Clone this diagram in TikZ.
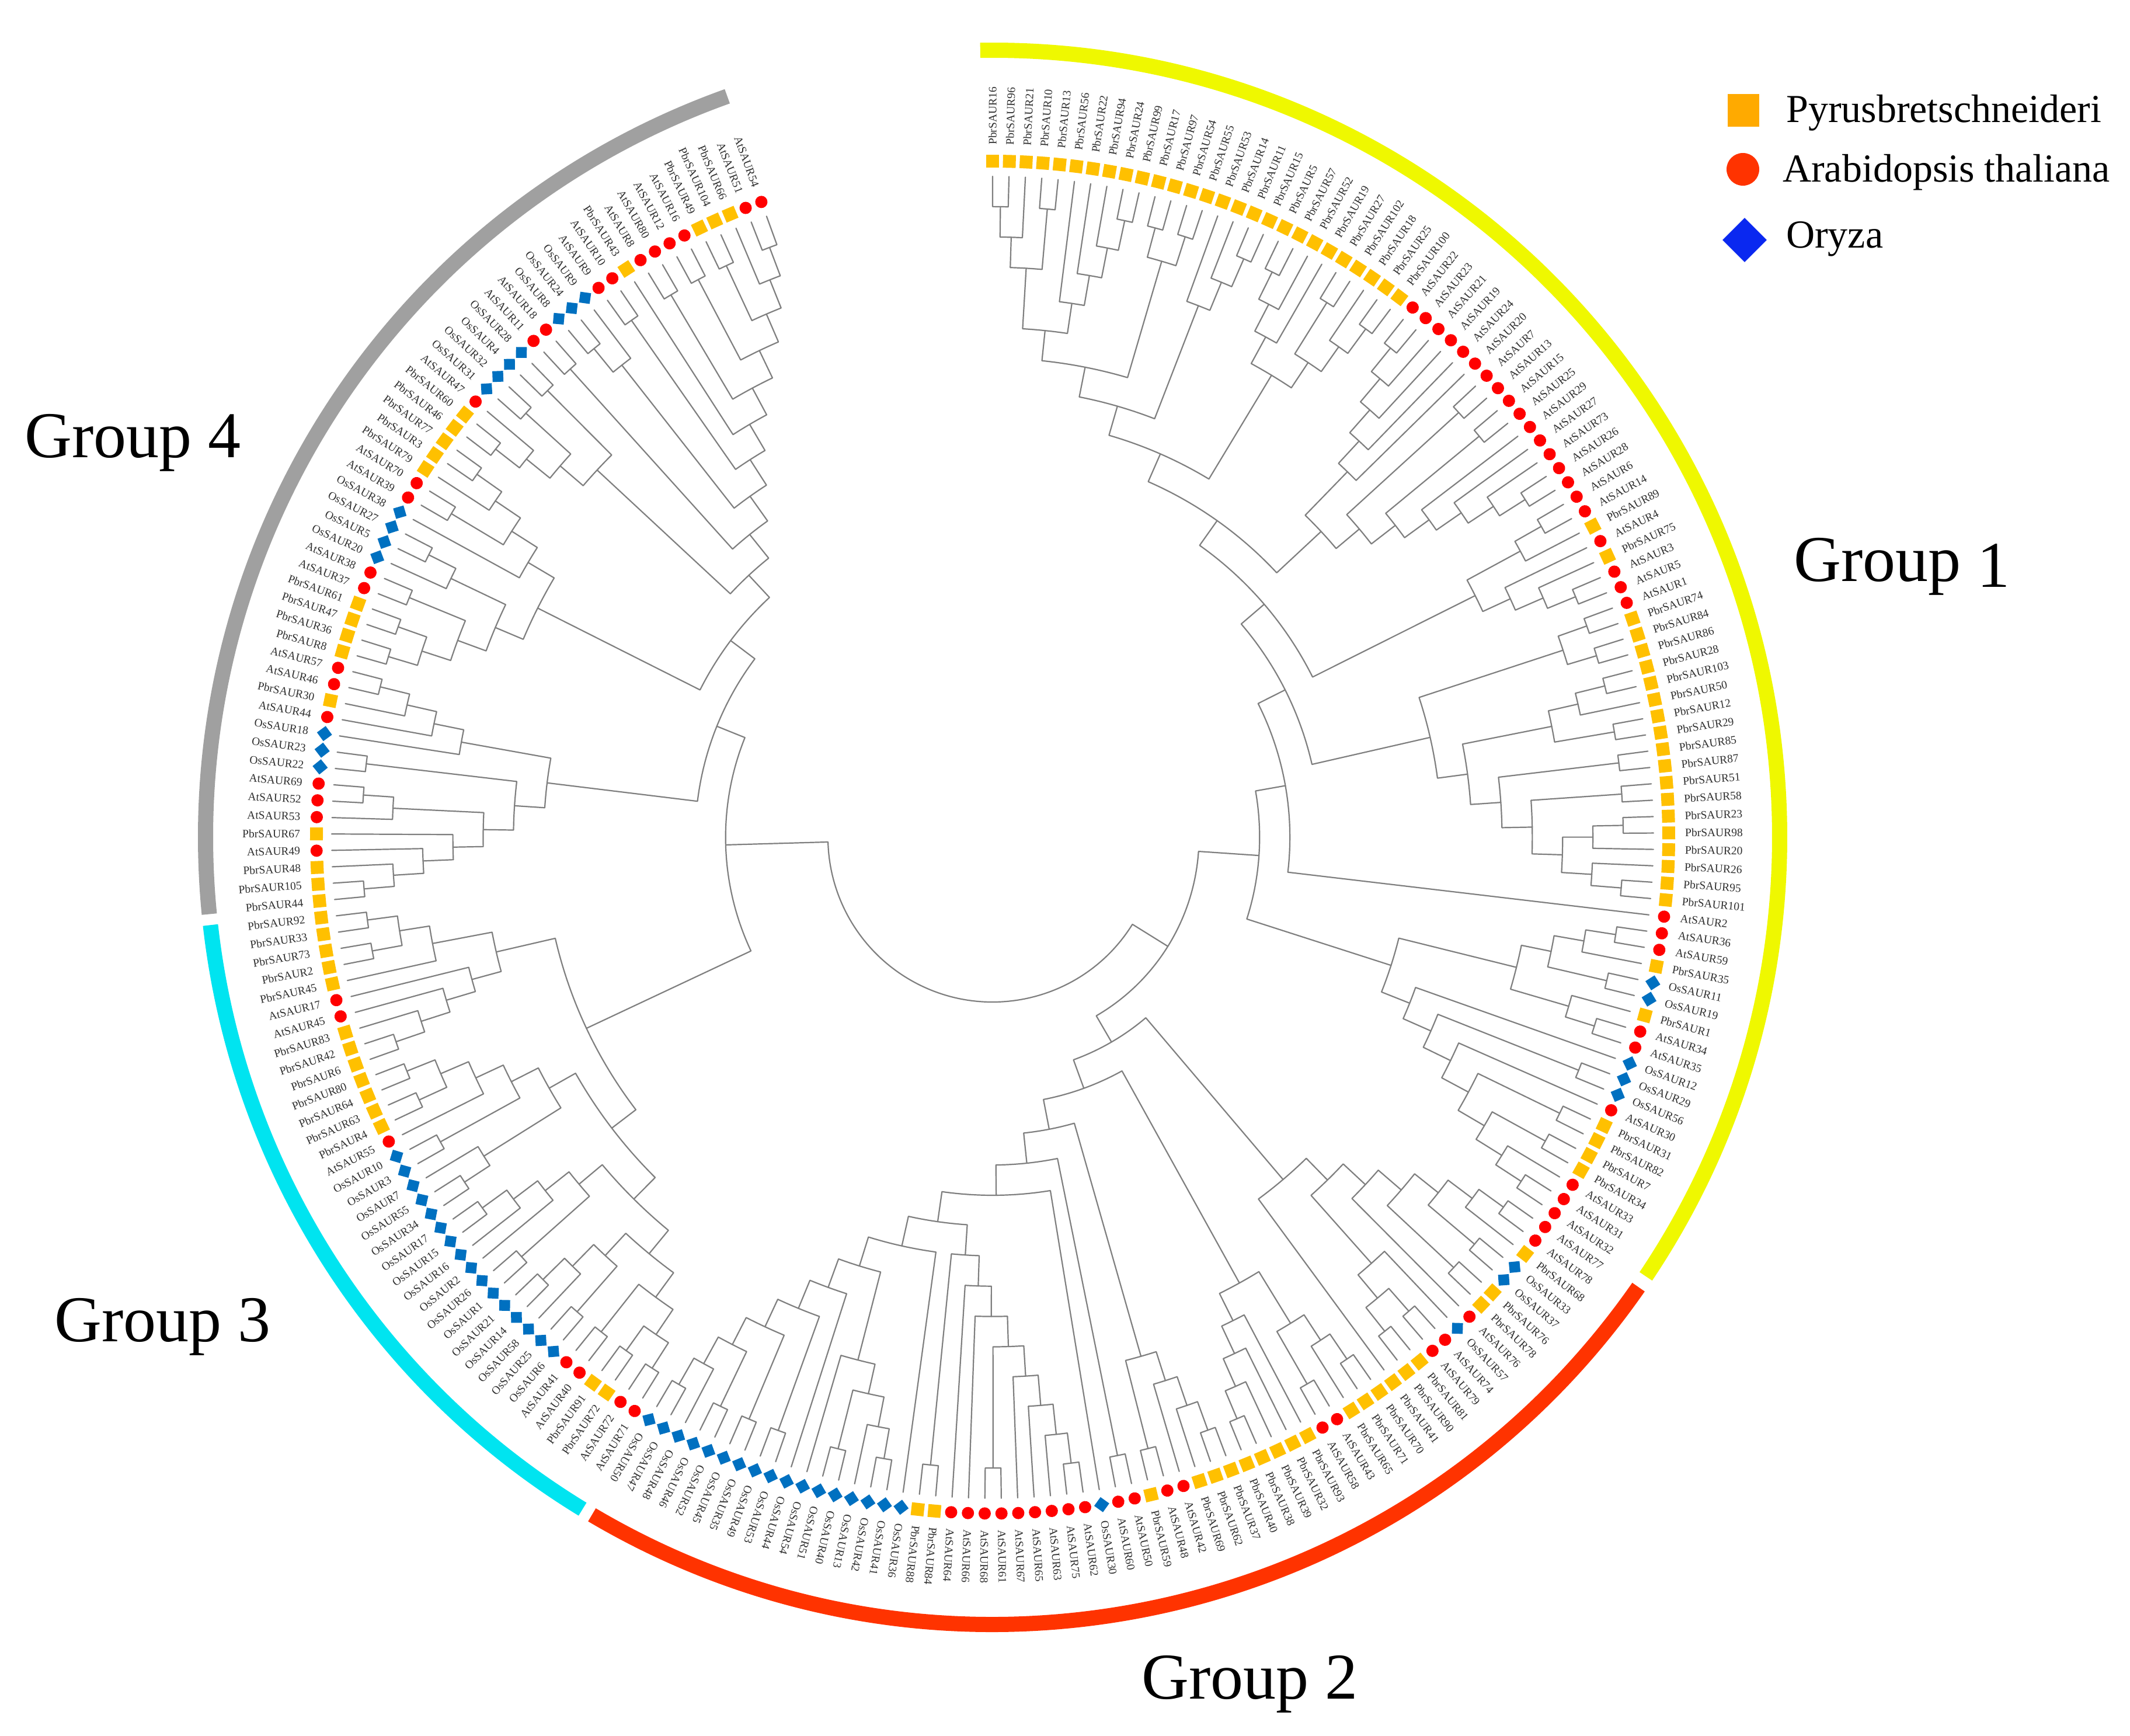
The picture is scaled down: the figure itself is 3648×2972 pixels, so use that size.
\documentclass[tikz,border=0pt]{standalone}
\usepackage{fontspec}
\setmainfont{Liberation Serif}
\usetikzlibrary{shapes.geometric}
\definecolor{pearc}{HTML}{FFC000}
\definecolor{arabc}{HTML}{FF0000}
\definecolor{oryzc}{HTML}{0070C0}
\definecolor{branchc}{HTML}{7F7F7F}
\definecolor{labc}{HTML}{303030}
\definecolor{gyellow}{HTML}{EFF800}
\definecolor{gred}{HTML}{FF3300}
\definecolor{gcyan}{HTML}{00E4F0}
\definecolor{ggrey}{HTML}{A0A0A0}
\definecolor{keyorange}{HTML}{FFAA00}
\definecolor{keyblue}{HTML}{0A28F0}
\tikzset{
  branch/.style={draw=branchc,line width=2.2pt,line join=round,line cap=round},
  pbsym/.style={rectangle,fill=pearc,inner sep=0pt,minimum size=22pt},
  atsym/.style={circle,fill=arabc,inner sep=0pt,minimum size=21pt},
  ossym/.style={rectangle,fill=oryzc,inner sep=0pt,minimum size=18.5pt},
  leaflabel/.style={inner sep=0pt,text=labc,font=\fontsize{19.5}{22}\selectfont},
  groupband/.style={line width=26pt,line cap=butt},
  grouplabel/.style={inner sep=0pt,anchor=base west,font=\fontsize{112}{130}\selectfont},
  legendlabel/.style={inner sep=0pt,anchor=base west,font=\fontsize{68}{84}\selectfont},
}
\newcount\LeafNo
\newcount\StackTop
\newcount\JoinNo
\newcount\HtCnt
\gdef\ForceR{}
\def\Leaf#1#2#3{%
  \global\advance\LeafNo by 1
  \global\advance\StackTop by 1
  \pgfmathsetmacro\LfAng{90-(\the\LeafNo-1)*1.422594}%
  \node[#1,rotate=\LfAng+#2] (s\the\LeafNo) at (\LfAng:1158pt) {};
  \ifnum\LeafNo<150
    \node[leaflabel,anchor=west,rotate=\LfAng] (l\the\LeafNo) at (\LfAng:1186pt) {#3};
  \else
    \node[leaflabel,anchor=east,rotate=\LfAng+180] (l\the\LeafNo) at (\LfAng:1186pt) {#3};
  \fi
  \coordinate (t\the\LeafNo) at (\LfAng:1132pt);
  \expandafter\xdef\csname StA\the\StackTop\endcsname{\LfAng}%
  \expandafter\xdef\csname StH\the\StackTop\endcsname{0}%
  \expandafter\xdef\csname StN\the\StackTop\endcsname{t\the\LeafNo}%
}
\def\Pb#1{\Leaf{pbsym}{0}{PbrSAUR#1}}
\def\At#1{\Leaf{atsym}{0}{AtSAUR#1}}
\def\Os#1{\Leaf{ossym}{45}{OsSAUR#1}}
\def\Jn{%
  \global\advance\JoinNo by 1
  \edef\TopI{\the\StackTop}%
  \count255=\StackTop \advance\count255 by -1 \edef\SecI{\the\count255}%
  \edef\AngA{\csname StA\SecI\endcsname}%
  \edef\AngB{\csname StA\TopI\endcsname}%
  \edef\NmA{\csname StN\SecI\endcsname}%
  \edef\NmB{\csname StN\TopI\endcsname}%
  \HtCnt=\csname StH\SecI\endcsname\relax
  \ifnum\csname StH\TopI\endcsname>\HtCnt \HtCnt=\csname StH\TopI\endcsname\relax\fi
  \advance\HtCnt by 1
  \ifx\ForceR\empty\pgfmathsetmacro\JR{1132-51.9*\the\HtCnt}\else\let\JR\ForceR\fi
  \pgfmathsetmacro\AngM{(\AngA+\AngB)/2}%
  \coordinate (a\the\JoinNo) at (\AngA:\JR pt);
  \coordinate (b\the\JoinNo) at (\AngB:\JR pt);
  \coordinate (n\the\JoinNo) at (\AngM:\JR pt);
  \draw[branch] (\NmA) -- (a\the\JoinNo) arc[start angle=\AngA,end angle=\AngB,radius=\JR pt] -- (\NmB);
  \global\advance\StackTop by -1
  \expandafter\xdef\csname StA\the\StackTop\endcsname{\AngM}%
  \expandafter\xdef\csname StH\the\StackTop\endcsname{\the\HtCnt}%
  \expandafter\xdef\csname StN\the\StackTop\endcsname{n\the\JoinNo}%
}
\begin{document}
\begin{tikzpicture}
\fill[white] (-1700pt,-1538pt) rectangle (1948pt,1434pt);
\useasboundingbox (-1700pt,-1538pt) rectangle (1948pt,1434pt);
% group bands
\draw[groupband,draw=gyellow] (90.9:1348pt) arc[start angle=90.9,end angle=-33.9,radius=1348pt];
\draw[groupband,draw=gred] (-34.85:1348pt) arc[start angle=-34.85,end angle=-120.6,radius=1348pt];
\draw[groupband,draw=gcyan] (-121.4:1348pt) arc[start angle=-121.4,end angle=-173.6,radius=1348pt];
\draw[groupband,draw=ggrey] (-174.4:1348pt) arc[start angle=-174.4,end angle=-250.3,radius=1348pt];
% tree, in postfix order, clockwise from the top
\Pb{16}\Pb{96}\Jn\Pb{21}\Jn\Pb{10}\Pb{13}\Jn\Jn
\Pb{56}\Pb{22}\Pb{94}\Pb{24}\Pb{99}\Jn\Jn\Jn\Jn
\Jn
\Pb{17}\Pb{97}\Jn\Pb{54}\Pb{55}\Jn\Jn
\Jn
\Pb{53}\Pb{14}\Pb{11}\Pb{15}\Jn\Jn\Jn
\Jn
\Pb{5}\Pb{57}\Jn\Pb{52}\Jn\Pb{19}\Jn
\Pb{27}\Pb{102}\Jn\Pb{18}\Pb{25}\Pb{100}\Jn\Jn\Jn
\Jn
\Jn
\At{22}\At{23}\Jn\At{21}\Jn\At{19}\Jn\At{24}\Jn\At{20}\Jn
\At{7}\At{13}\Jn\At{15}\At{25}\Jn\At{29}\At{27}\At{73}\At{26}\At{28}
\Jn\Jn\Jn\Jn\Jn\Jn\Jn
\Jn
\At{6}\At{14}\Jn\Pb{89}\Jn\At{4}\Pb{75}\At{3}\At{5}\Jn\Jn\Jn\Jn
\Jn
\At{1}\Pb{74}\Jn\Pb{84}\Pb{86}\Jn\Jn
\Pb{28}\Pb{103}\Jn\Pb{50}\Jn\Pb{12}\Pb{29}\Jn\Jn
\Pb{85}\Pb{87}\Jn\Pb{51}\Pb{58}\Jn\Pb{23}\Pb{98}\Jn\Pb{20}\Jn\Pb{26}\Pb{95}\Pb{101}\Jn\Jn
\Jn\Jn\Jn\Jn\Jn
\Jn
\At{2}\Jn
\At{36}\At{59}\Jn\Pb{35}\Jn\Os{11}\Os{19}\Jn\Jn\Pb{1}\At{34}\At{35}\Jn\Jn\Jn
\Os{12}\Os{29}\Os{56}\Jn\At{30}\Pb{31}\Pb{82}\Jn\Pb{7}\Pb{34}\Jn\At{33}\At{31}\At{32}\Jn
\Jn\Jn\Jn\Jn\Jn\Jn
\Jn
\Jn
\At{77}\At{78}\Jn\Pb{68}\Jn\Os{33}\Os{37}\Jn\Jn\Pb{76}\Pb{78}\Jn\Jn\At{76}\Jn
\Os{57}\At{74}\At{79}\Jn\Pb{81}\Pb{90}\Jn\Jn\Jn
\Jn\Pb{41}\Jn
\Pb{70}\Pb{71}\Jn\Pb{65}\Jn\At{43}\At{58}\Jn\Jn
\Pb{93}\Pb{32}\Pb{39}\Pb{38}\Pb{40}\Jn\Jn\Jn\Jn
\Jn
\Pb{37}\Pb{62}\Jn\Pb{69}\Jn\At{42}\Jn\At{48}\Pb{59}\Jn\Jn
\At{50}\At{60}\Jn
\Os{30}
\At{62}\At{75}\Jn\At{63}\Jn\At{65}\Jn\At{67}\Jn\At{61}\At{68}\Jn\Jn\At{66}\Jn\At{64}\Jn\Pb{84}\Pb{88}\Jn\Jn
\Os{36}\Os{41}\Os{42}\Jn\Os{13}\Jn\Os{40}\Os{51}\Jn\Jn\Os{54}\Jn
\Os{44}\Os{53}\Os{49}\Jn\Os{35}\Os{45}\Jn\Os{52}\Os{46}\Jn\Os{48}\Os{47}\Os{50}\Jn
\Jn\Jn\Jn\Jn\Jn\Jn\Jn
\Jn\Jn\Jn\Jn\Jn\Jn
\Jn
% left half
\At{71}\At{72}\Jn\Pb{72}\Pb{91}\Jn\Jn\At{40}\At{41}\Jn\Jn
\Os{6}\Os{25}\Jn\Os{58}\Os{14}\Os{21}\Jn\Jn\Jn\Jn
\Os{1}\Os{26}\Jn\Os{2}\Os{16}\Os{15}\Os{17}\Jn\Jn\Jn\Jn\Jn
\Os{34}\Os{55}\Jn\Os{7}\Jn\Os{3}\Os{10}\Jn\At{55}\Pb{4}\Pb{63}\Jn\Pb{64}\Pb{80}\Jn\Jn\Jn\Jn\Jn
\Jn
\Pb{6}\Pb{42}\Jn\Pb{83}\Jn\At{45}\Jn\At{17}\Jn
\Pb{45}\Pb{2}\Pb{73}\Jn\Pb{33}\Pb{92}\Jn\Jn\Jn\Jn
\Jn
\Pb{44}\Pb{105}\Jn\Pb{48}\Jn\At{49}\Jn\Pb{67}\Jn\At{53}\At{52}\At{69}\Jn\Jn\Jn
\Os{22}\Os{23}\Jn\Jn
\Os{18}\At{44}\Pb{30}\At{46}\At{57}\Jn\Jn\Jn\Jn\Jn
\Pb{8}\Pb{36}\Jn\Pb{47}\Pb{61}\Jn\Jn\At{37}\At{38}\Jn\Jn\Os{20}\Os{5}\Os{27}\Jn\Jn\Jn
\Os{38}\At{39}\At{70}\Jn\Pb{79}\Pb{3}\Pb{77}\Jn\Jn\Jn\Jn\Jn
\Pb{46}\Pb{60}\Jn\At{47}\Jn\Os{31}\Os{32}\Jn\Jn\Os{4}\Os{28}\Jn\Jn
\At{11}\At{18}\Jn\Os{8}\Os{24}\Jn\Os{9}\Jn\At{9}\At{10}\Jn\Pb{43}\At{8}\At{80}\Jn\At{12}\At{16}\Jn\Pb{49}\Pb{104}\Jn\Pb{66}\At{51}\At{54}\Jn\Jn
\Jn\Jn\Jn\Jn\Jn\Jn\Jn
\Jn\Jn\Jn\Jn
\gdef\ForceR{282}\Jn
% group titles
\node[grouplabel] (g1) at (1372pt,438pt) {Group \raisebox{-10pt}{1}};
\node[grouplabel] (g2) at (255pt,-1475pt) {Group 2};
\node[grouplabel] (g3) at (-1607pt,-863pt) {Group 3};
\node[grouplabel] (g4) at (-1658pt,650pt) {Group 4};
% legend
\node[rectangle,fill=keyorange,inner sep=0pt,minimum width=54pt,minimum height=56pt] (k1) at (1286pt,1245pt) {};
\node[circle,fill=gred,inner sep=0pt,minimum size=56pt] (k2) at (1285pt,1144pt) {};
\node[diamond,fill=keyblue,inner sep=0pt,minimum size=76pt] (k3) at (1288pt,1023pt) {};
\node[legendlabel] (k1t) at (1359pt,1224pt) {Pyrusbretschneideri};
\node[legendlabel] (k2t) at (1353pt,1122pt) {Arabidopsis thaliana};
\node[legendlabel] (k3t) at (1359pt,1009pt) {Oryza};
\end{tikzpicture}
\end{document}
